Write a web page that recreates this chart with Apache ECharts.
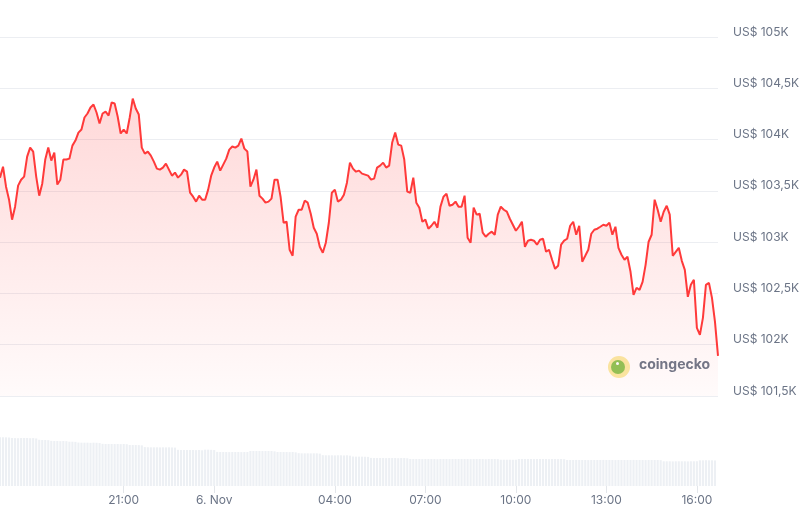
<!DOCTYPE html>
<html>
<head>
<meta charset="utf-8">
<script src="https://cdn.jsdelivr.net/npm/echarts@6/dist/echarts.min.js"></script>
<style>
html,body{margin:0;padding:0;background:#fff;}
#chart{width:805px;height:515px;}
</style>
</head>
<body>
<div id="chart"></div>
<script>
// 6-minute samples, 5 Nov 16:54 -> 6 Nov 16:42
const startMinute = 16 * 60 + 54;
const stepMinutes = 6;

const prices = [
103629,103736,103541,103414,103219,103346,103551,103609,103639,103834,
103922,103883,103639,103453,103570,103805,103922,103795,103873,103561,
103609,103805,103805,103814,103941,103990,104068,104098,104215,104254,
104313,104342,104264,104156,104254,104273,104234,104361,104352,104225,
104059,104098,104059,104215,104400,104303,104244,103922,103863,103883,
103844,103785,103717,103707,103727,103766,103707,103648,103678,103629,
103658,103707,103687,103482,103443,103395,103453,103414,103414,103512,
103648,103727,103785,103697,103756,103814,103902,103932,103922,103941,
104010,103912,103883,103541,103609,103707,103453,103424,103385,103395,
103424,103609,103609,103443,103189,103199,102926,102867,103248,103316,
103316,103404,103385,103277,103141,103082,102955,102896,102994,103189,
103482,103512,103395,103414,103463,103580,103775,103717,103687,103697,
103668,103658,103648,103609,103619,103727,103746,103775,103727,103746,
103971,104068,103951,103941,103805,103492,103482,103629,103385,103336,
103199,103219,103131,103160,103199,103141,103346,103443,103473,103355,
103365,103395,103346,103346,103453,103043,102994,103336,103268,103277,
103092,103053,103082,103102,103072,103268,103346,103316,103297,103228,
103170,103111,103150,103199,102955,103014,103023,103014,102975,103023,
103033,102906,102926,102828,102740,102769,102975,103014,103033,103160,
103199,103072,103160,102809,102867,102926,103082,103121,103131,103150,
103170,103160,103189,103072,103150,102945,102877,102828,102857,102711,
102486,102555,102535,102613,102779,103004,103072,103414,103316,103199,
103297,103355,103268,102867,102906,102945,102818,102730,102467,102584,
102633,102164,102096,102262,102584,102603,102457,102223,101891
];

// volume (billion US$)
const volumes = [
64.1,64.1,64.0,63.8,
63.2,63.0,62.9,63.1,63.2,63.2,62.9,63.0,62.6,
60.8,60.5,60.5,60.3,
59.4,59.2,59.2,59.0,59.2,59.0,
58.3,58.3,58.1,
57.2,57.0,57.0,57.0,56.8,57.0,56.9,56.5,
55.5,55.3,55.3,55.3,55.2,55.3,55.1,55.3,55.0,
54.0,53.9,53.9,53.8,53.5,
51.2,51.0,50.9,50.9,50.9,50.8,50.9,50.8,50.9,50.7,50.5,
47.6,47.4,47.4,47.4,47.3,47.4,47.2,47.4,47.0,
47.8,47.8,47.6,47.3,
44.9,44.7,44.7,44.7,44.6,44.7,44.7,44.7,44.6,44.7,44.7,
46.1,46.1,46.1,46.1,46.0,46.1,46.1,46.0,45.6,
44.8,44.7,44.7,44.7,44.6,44.7,44.3,
43.2,43.0,43.0,43.0,42.9,43.0,43.0,42.6,
40.6,40.4,40.4,40.4,40.3,40.4,40.4,40.2,40.4,39.9,
38.8,38.6,38.6,38.6,38.5,38.3,
37.0,36.8,36.8,36.8,36.8,36.7,36.8,36.8,36.8,36.6,36.8,36.8,36.5,
35.6,35.5,35.5,35.5,35.4,35.5,35.5,35.5,35.5,35.3,35.5,35.5,35.5,35.4,35.5,
35.5,35.5,35.6,35.5,35.5,35.4,35.5,35.5,35.5,35.5,35.3,35.5,35.5,35.5,35.4,
34.6,34.6,34.6,34.6,34.5,34.6,
35.5,35.6,35.5,35.5,35.5,35.4,35.5,35.5,35.5,35.5,35.3,35.5,35.5,35.4,35.5,35.3,
34.2,34.2,34.2,34.3,34.2,34.2,34.2,34.1,34.2,34.2,34.2,34.2,34.3,34.2,34.2,34.2,34.1,
34.2,34.2,34.2,34.2,34.2,34.3,34.2,34.2,34.2,34.1,34.2,34.2,34.2,34.2,34.0,
32.5,32.5,32.5,32.4,32.5,32.5,32.5,32.5,32.4,32.5,32.5,32.6,
33.8,33.8,33.9,33.8,33.8,33.6
];

const tickTimes = ['21:00','00:00','04:00','07:00','10:00','13:00','16:00'];
const tickTexts = ['21:00','6. Nov','04:00','07:00','10:00','13:00','16:00'];

const yTicks = { min: 101500, max: 105000, step: 500 };

const categories = prices.map((_, i) => {
  const m = (startMinute + i * stepMinutes) % (24 * 60);
  const hh = String(Math.floor(m / 60)).padStart(2, '0');
  const mm = String(m % 60).padStart(2, '0');
  return hh + ':' + mm;
});

const chart = echarts.init(document.getElementById('chart'), null, { renderer: 'canvas' });
const isTick = (idx, val) => tickTimes.indexOf(val) >= 0;
const FONT = 'Inter, "Noto Sans", sans-serif';
const LABEL = '#6b7486';

chart.setOption({
  animation: false,
  backgroundColor: '#ffffff',
  grid: [
    { left: 0, right: 87, top: 37, height: 359 },
    { left: 0, right: 87, top: 410, bottom: 29 }
  ],
  xAxis: [
    { type: 'category', gridIndex: 0, data: categories, boundaryGap: false,
      axisLine: { show: false }, axisTick: { show: false }, axisLabel: { show: false }, splitLine: { show: false } },
    { type: 'category', gridIndex: 1, data: categories, boundaryGap: false,
      axisLine: { show: false },
      axisTick: { show: true, interval: isTick, length: 7, lineStyle: { color: '#e3e6ea' } },
      axisLabel: { interval: isTick, margin: 8, fontSize: 12, color: LABEL, fontFamily: FONT,
        formatter: v => tickTexts[tickTimes.indexOf(v)] },
      splitLine: { show: false } }
  ],
  yAxis: [
    { type: 'value', gridIndex: 0, position: 'right', min: yTicks.min, max: yTicks.max, interval: yTicks.step,
      axisLine: { show: false }, axisTick: { show: false },
      axisLabel: { margin: 15, fontSize: 12, color: LABEL, fontFamily: FONT,
        verticalAlign: 'bottom', lineHeight: 10,
        formatter: v => 'US$ ' + String(v / 1000).replace('.', ',') + 'K' },
      splitLine: { lineStyle: { color: '#eceef2', width: 1 } } },
    { type: 'value', gridIndex: 1, min: 0, max: 100, show: false, splitLine: { show: false } }
  ],
  series: [
    { type: 'bar', xAxisIndex: 1, yAxisIndex: 1, data: volumes, barCategoryGap: '30%',
      itemStyle: { color: '#edf0f4' }, silent: true },
    { type: 'line', xAxisIndex: 0, yAxisIndex: 0, data: prices, showSymbol: false, smooth: false,
      lineStyle: { color: '#ff3a3a', width: 2 },
      areaStyle: { origin: 'start', color: new echarts.graphic.LinearGradient(0, 0, 0, 1, [
        { offset: 0, color: 'rgba(255,58,58,0.28)' },
        { offset: 1, color: 'rgba(255,58,58,0.03)' }
      ]) } }
  ],
  graphic: [
    { type: 'circle', left: 608, top: 356, shape: { r: 11 }, style: { fill: '#faeaa3' } },
    { type: 'circle', left: 611, top: 360, shape: { r: 7 }, style: { fill: '#8fc456' } },
    { type: 'circle', left: 616, top: 362, shape: { r: 1.5 }, style: { fill: '#ffffff' } },
    { type: 'text', left: 639, top: 358, style: { text: 'coingecko', fill: '#6e7889',
      font: 'bold 14px ' + FONT } }
  ]
});
</script>
</body>
</html>
